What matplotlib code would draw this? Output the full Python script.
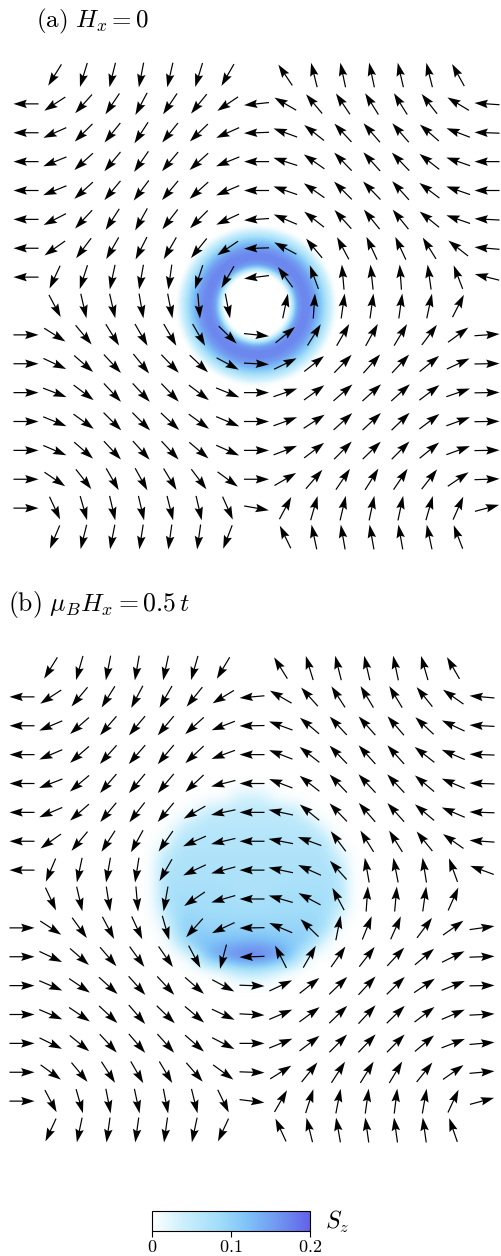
import numpy as np
import matplotlib
matplotlib.use('Agg')
import matplotlib.pyplot as plt
from matplotlib.colors import LinearSegmentedColormap, Normalize
from matplotlib.cm import ScalarMappable

plt.rcParams['mathtext.fontset'] = 'cm'
plt.rcParams['font.family'] = ['DejaVu Serif']

N = None
# in-plane spin direction (degrees, 0 = +x, 90 = up) on the 17 x 17 lattice, row 0 = top
angles_a = [
    [N, 238, 253, 256, 259, 257, 253, 240, N, 124, 104, 102, 102, 103, 104, 119, N],
    [180, 213, 228, 236, 242, 236, 231, 214, 186, 150, 130, 124, 122, 122, 128, 149, 176],
    [180, 204, 225, 231, 237, 231, 224, 204, 182, 160, 142, 133, 131, 131, 139, 159, 178],
    [180, 202, 222, 230, 235, 230, 222, 202, 180, 162, 145, 134, 132, 134, 142, 161, 180],
    [180, 202, 222, 230, 233, 230, 222, 203, 180, 161, 145, 135, 134, 132, 143, 161, 180],
    [180, 207, 227, 237, 241, 232, 225, 205, 184, 157, 142, 132, 129, 129, 141, 161, 177],
    [180, 215, 233, 240, 243, 240, 231, 214, 182, 152, 130, 118, 115, 115, 122, 142, 175],
    [180, 245, 252, 258, 260, 262, 252, 240, 187, 126, 110, 95, 96, 94, 98, 111, 166],
    [N, 298, 283, 283, 280, 281, 275, 281, N, 78, 86, 82, 82, 82, 78, 63, N],
    [0, 328, 310, 302, 300, 300, 300, 316, 354, 39, 58, 60, 61, 59, 53, 36, 4],
    [0, 335, 319, 313, 309, 314, 317, 332, 357, 26, 38, 46, 48, 47, 39, 25, 1],
    [0, 339, 323, 313, 313, 314, 323, 338, 0, 19, 36, 41, 42, 42, 37, 19, 1],
    [0, 338, 324, 315, 315, 317, 324, 337, 0, 20, 33, 42, 43, 44, 37, 20, 1],
    [0, 337, 319, 313, 312, 313, 320, 336, 0, 21, 37, 45, 44, 45, 39, 20, 1],
    [0, 326, 308, 300, 299, 301, 307, 324, 0, 30, 49, 56, 58, 56, 52, 34, 2],
    [0, 295, 286, 283, 283, 284, 283, 294, 350, 62, 74, 77, 78, 78, 74, 66, 15],
    [N, 247, 256, 259, 261, 262, 262, 249, N, 116, 102, 100, 100, 100, 102, 111, N],
]

angles_b = [
    [N, 238, 254, 259, 260, 258, 254, 239, N, 122, 107, 104, 103, 102, 106, 120, N],
    [180, 213, 230, 238, 242, 240, 231, 211, 185, 150, 132, 123, 121, 121, 129, 145, 175],
    [180, 203, 221, 229, 230, 230, 222, 201, 181, 160, 140, 133, 132, 131, 137, 155, 177],
    [180, 203, 221, 228, 229, 230, 223, 200, 180, 159, 142, 134, 132, 132, 142, 157, 178],
    [180, 201, 220, 229, 230, 230, 223, 194, 180, 159, 142, 134, 133, 133, 140, 157, 178],
    [180, 203, 221, 230, 232, 230, 210, 192, 180, 168, 141, 134, 131, 132, 140, 157, 178],
    [180, 215, 230, 237, 241, 235, 204, 193, 180, 169, 160, 127, 122, 122, 129, 145, 176],
    [180, 247, 258, 260, 261, 240, 205, 195, 180, 168, 156, 132, 100, 101, 99, 110, 160],
    [N, 295, 283, 279, 275, 260, 214, 196, 180, 164, 152, 118, 86, 85, 82, 66, N],
    [0, 327, 306, 298, 295, 286, 228, 205, 181, 157, 136, 79, 68, 66, 53, 35, 8],
    [0, 335, 319, 311, 306, 305, 298, 255, 182, 117, 60, 55, 52, 47, 40, 26, 2],
    [0, 337, 326, 318, 312, 313, 319, 332, 358, 25, 38, 44, 47, 44, 34, 22, 1],
    [0, 337, 326, 317, 311, 316, 320, 335, 357, 23, 36, 44, 47, 44, 37, 23, 3],
    [0, 334, 321, 313, 311, 312, 319, 333, 0, 22, 37, 45, 46, 45, 40, 21, 5],
    [0, 324, 310, 303, 300, 301, 311, 324, 358, 32, 51, 57, 58, 59, 51, 35, 5],
    [0, 298, 286, 281, 282, 281, 284, 296, 353, 60, 72, 79, 82, 83, 80, 65, 15],
    [N, 245, 258, 262, 262, 262, 258, 245, N, 115, 104, 100, 98, 98, 98, 109, N],
]

# panel (a): S_z ring around the vortex core (radius in lattice units)
ring_center = (8.0, 8.0)
ring_r = [0.0, 1.05, 1.15, 1.25, 1.35, 1.45, 1.6, 1.8, 2.0, 2.15, 2.3, 2.45, 2.6, 2.72, 2.82]
ring_sz = [0, 0, 0.015, 0.06, 0.12, 0.155, 0.17, 0.17, 0.155, 0.13, 0.10, 0.065, 0.035, 0.012, 0]

# panel (b): S_z sampled every half lattice spacing
disk_cols = [4.5, 5.0, 5.5, 6.0, 6.5, 7.0, 7.5, 8.0, 8.5, 9.0, 9.5, 10.0, 10.5, 11.0, 11.5]
disk_rows = [4.0, 4.5, 5.0, 5.5, 6.0, 6.5, 7.0, 7.5, 8.0, 8.5, 9.0, 9.5, 10.0, 10.5, 11.0]
disk_sz = [
    [0, 0, 0, 0, 0, 0, 0, 0, 0, 0, 0, 0, 0, 0, 0],
    [0, 0, 0, 0, 0, 0, .03, .04, .025, 0, 0, 0, 0, 0, 0],
    [0, 0, 0, .015, .05, .055, .055, .055, .055, .055, .05, 0, 0, 0, 0],
    [0, 0, .03, .06, .06, .06, .06, .06, .06, .06, .06, .06, .01, 0, 0],
    [0, .01, .065, .065, .065, .065, .065, .065, .065, .065, .065, .065, .065, 0, 0],
    [0, .055, .07, .07, .07, .07, .07, .07, .07, .07, .07, .07, .07, .035, 0],
    [0, .07, .072, .072, .072, .072, .072, .072, .072, .072, .072, .072, .072, .065, 0],
    [0, .075, .075, .075, .075, .075, .072, .072, .072, .075, .075, .075, .075, .07, 0],
    [0, .075, .08, .08, .08, .08, .075, .072, .075, .08, .08, .08, .08, .07, 0],
    [0, .05, .09, .09, .085, .085, .085, .085, .085, .085, .085, .085, .085, .04, 0],
    [0, .015, .10, .10, .095, .095, .095, .095, .095, .095, .095, .095, .09, 0, 0],
    [0, 0, .06, .12, .12, .125, .13, .135, .13, .12, .11, .10, .015, 0, 0],
    [0, 0, 0, .03, .14, .165, .185, .195, .185, .165, .10, 0, 0, 0, 0],
    [0, 0, 0, 0, 0, .015, .05, .06, .05, .015, 0, 0, 0, 0, 0],
    [0, 0, 0, 0, 0, 0, 0, 0, 0, 0, 0, 0, 0, 0, 0],
]

cbar_ticks = [0, 0.1, 0.2]
cbar_ticklabels = ['$0$', '$0.1$', '$0.2$']

cmap = LinearSegmentedColormap.from_list(
    'sz', [(0.0, '#ffffff'), (0.2, '#cbeffc'), (0.42, '#a2ddf9'),
           (0.6, '#7fc3f7'), (0.8, '#7096f0'), (1.0, '#6262ea')])
cmap.set_under('white')
norm = Normalize(0, 0.2)

W, H = 501, 1256
fig = plt.figure(figsize=(W / 100, H / 100), dpi=100)


def px_axes(y0, y1):
    return fig.add_axes([0, 1 - y1 / H, 1, (y1 - y0) / H])


def draw_arrows(ax, angles):
    xs, ys, us, vs = [], [], [], []
    for r, row in enumerate(angles):
        for c, a in enumerate(row):
            if a is None:
                continue
            t = np.deg2rad(a)
            xs.append(c)
            ys.append(-r)
            us.append(np.cos(t))
            vs.append(np.sin(t))
    ax.quiver(xs, ys, us, vs, units='xy', angles='xy', scale_units='xy',
              scale=1 / 0.87, pivot='middle', width=0.042, headwidth=7,
              headlength=11, headaxislength=9.5, color='black', zorder=3)


# ---- panel (a)
ax_a = px_axes(40, 580)
ax_a.set_xlim(-26 / 28.8125, 16 + 14 / 28.8125)
ax_a.set_ylim(-(16 + 43 / 28.875), 35 / 28.875)
gx = np.linspace(4, 12, 500)
gy = np.linspace(-12, -4, 500)
GX, GY = np.meshgrid(gx, gy)
R = np.hypot(GX - ring_center[0], -GY - ring_center[1])
Z = np.interp(R, ring_r, ring_sz)
ax_a.imshow(Z, extent=(4, 12, -12, -4), origin='lower', cmap=cmap, norm=norm,
            interpolation='bilinear', aspect='auto', zorder=1)
draw_arrows(ax_a, angles_a)
ax_a.axis('off')

# ---- panel (b)
ax_b = px_axes(630, 1170)
ax_b.set_xlim(-22 / 28.75, 16 + 19 / 28.75)
ax_b.set_ylim(-(16 + 40 / 28.875), 38 / 28.875)
ax_b.imshow(np.array(disk_sz), extent=(disk_cols[0] - 0.25, disk_cols[-1] + 0.25,
                                        -disk_rows[-1] - 0.25, -disk_rows[0] + 0.25),
            origin='upper', cmap=cmap, norm=norm, interpolation='bicubic',
            aspect='auto', zorder=1)
draw_arrows(ax_b, angles_b)
ax_b.axis('off')

# ---- titles
fig.text(36 / W, 1 - 21 / H, r'$\mathrm{(a)}\ H_x = 0$', fontsize=18,
         ha='left', va='center')
fig.text(8 / W, 1 - 605 / H, r'$\mathrm{(b)}\ \mu_B H_x = 0.5\,t$', fontsize=18.5,
         ha='left', va='center')

# ---- colorbar
cax = fig.add_axes([152 / W, 1 - 1231 / H, 158 / W, 20 / H])
cb = fig.colorbar(ScalarMappable(norm=norm, cmap=cmap), cax=cax,
                  orientation='horizontal', ticks=cbar_ticks)
cb.ax.set_xticklabels(cbar_ticklabels)
cb.ax.tick_params(labelsize=13, length=4, width=0.8, direction='out', pad=1)
cb.outline.set_linewidth(0.8)
fig.text(325 / W, 1 - 1222 / H, r'$S_z$', fontsize=17, ha='left', va='center')

fig.savefig('out.png', dpi=100)
